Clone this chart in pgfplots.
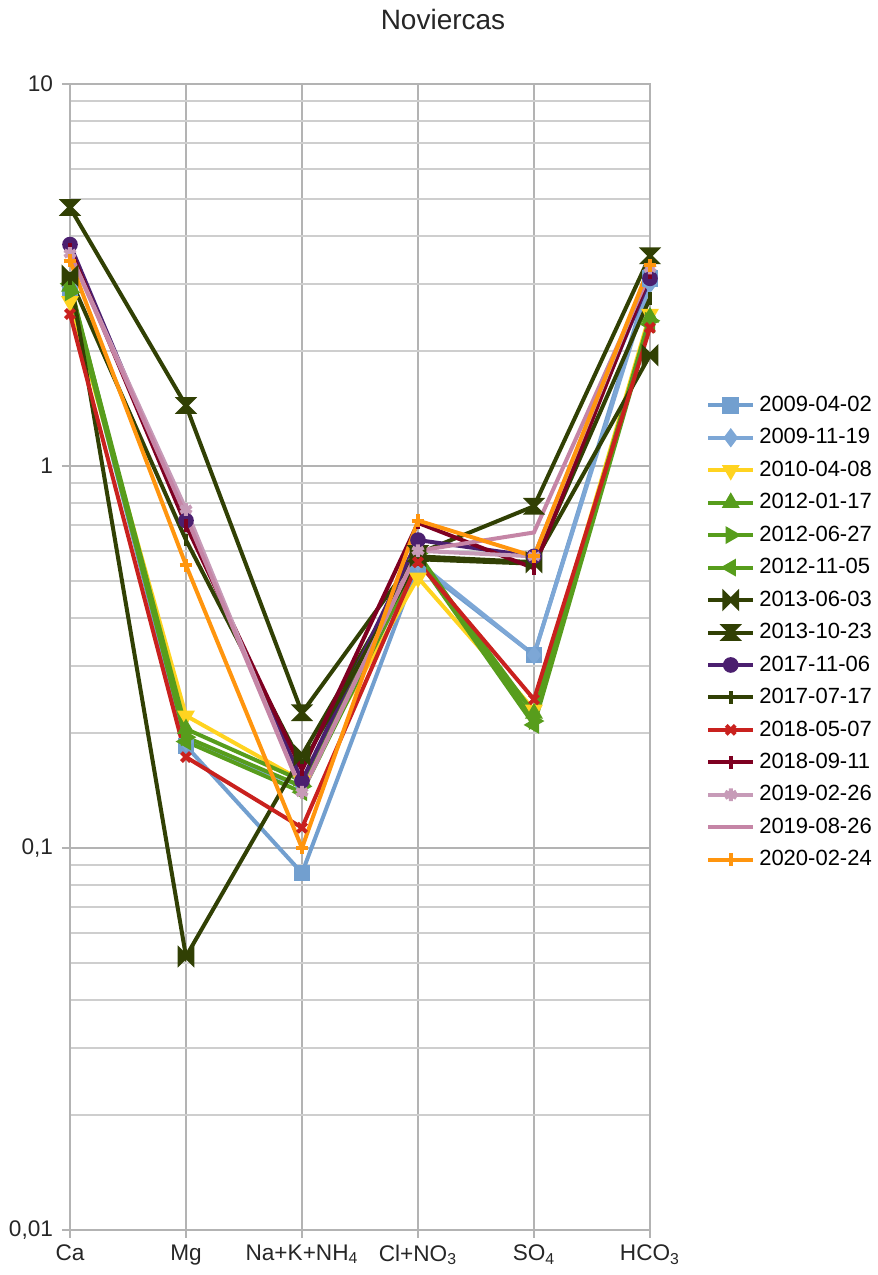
\documentclass[border=0pt]{standalone}
\usepackage{pgfplots}
\pgfplotsset{compat=1.18}
\usepackage{fontspec}
\setmainfont{Liberation Sans}
\definecolor{cblue}{HTML}{729FCF}
\definecolor{cblue2}{HTML}{7DA7D6}
\definecolor{cyellow}{HTML}{FFD320}
\definecolor{cgreen}{HTML}{579D1C}
\definecolor{colive}{HTML}{314004}
\definecolor{cpurple}{HTML}{4B1F6F}
\definecolor{cred}{HTML}{C9211E}
\definecolor{cdred}{HTML}{7E0021}
\definecolor{cpink}{HTML}{C79BB8}
\definecolor{cpink2}{HTML}{C585A6}
\definecolor{corange}{HTML}{FF950E}
\definecolor{cgrid}{HTML}{B3B3B3}
\pgfdeclareplotmark{bowtie}{%
  \pgfpathmoveto{\pgfqpoint{-\pgfplotmarksize}{\pgfplotmarksize}}%
  \pgfpathlineto{\pgfqpoint{\pgfplotmarksize}{-\pgfplotmarksize}}%
  \pgfpathlineto{\pgfqpoint{\pgfplotmarksize}{\pgfplotmarksize}}%
  \pgfpathlineto{\pgfqpoint{-\pgfplotmarksize}{-\pgfplotmarksize}}%
  \pgfpathclose\pgfusepathqfillstroke}
\pgfdeclareplotmark{hourglass}{%
  \pgfpathmoveto{\pgfqpoint{-\pgfplotmarksize}{\pgfplotmarksize}}%
  \pgfpathlineto{\pgfqpoint{\pgfplotmarksize}{\pgfplotmarksize}}%
  \pgfpathlineto{\pgfqpoint{-\pgfplotmarksize}{-\pgfplotmarksize}}%
  \pgfpathlineto{\pgfqpoint{\pgfplotmarksize}{-\pgfplotmarksize}}%
  \pgfpathclose\pgfusepathqfillstroke}
\begin{document}
\begin{tikzpicture}
\useasboundingbox (-35pt,-22.5pt) rectangle (404pt,615pt);
\begin{axis}[
  at={(0,0)}, anchor=south west,
  scale only axis, width=290pt, height=573pt,
  xmin=0, xmax=5, ymode=log, ymin=0.01, ymax=10,
  xtick={0,1,2,3,4,5},
  xticklabels={Ca, Mg, Na+K+NH\textsubscript{4}, Cl+NO\textsubscript{3}, SO\textsubscript{4}, HCO\textsubscript{3}},
  ytick={0.01,0.1,1,10},
  yticklabels={{0,01},{0,1},1,10},
  /pgf/number format/assume math mode=true,
  tick label style={font=\fontsize{11.3}{13}\selectfont, text=black!85},
  yticklabel style={xshift=-1pt},
  xmajorgrids, ymajorgrids, yminorgrids,
  major grid style={cgrid, line width=1pt},
  minor grid style={cgrid!65, line width=1pt},
  axis line style={cgrid, line width=1pt},
  tick style={cgrid, line width=1pt},
  tick align=outside, major tick length=4pt, minor tick length=0pt,
  xtick pos=bottom, ytick pos=left,
  legend cell align=left,
  legend style={at={(rel axis cs:1.086,0.735)}, anchor=north west, draw=none,
    font=\fontsize{11}{13}\selectfont, row sep=3.05pt, fill=none},
  legend image code/.code={%
    \draw[mark repeat=2,mark phase=2] plot coordinates {(0pt,0pt)(11.25pt,0pt)(22.5pt,0pt)};},
  every axis plot/.append style={line width=2pt, mark size=3.2pt},
  clip=false,
]
\addplot[cblue, mark=square*] coordinates {(0,2.9)(1,0.185)(2,0.086)(3,0.55)(4,0.32)(5,3.1)};
\addlegendentry{2009-04-02}
\addplot[cblue2, mark=diamond*] coordinates {(0,2.95)(1,0.19)(2,0.145)(3,0.56)(4,0.32)(5,3.0)};
\addlegendentry{2009-11-19}
\addplot[cyellow, mark=triangle*, mark options={rotate=180}] coordinates {(0,2.7)(1,0.222)(2,0.15)(3,0.51)(4,0.23)(5,2.5)};
\addlegendentry{2010-04-08}
\addplot[cgreen, mark=triangle*] coordinates {(0,2.95)(1,0.205)(2,0.15)(3,0.58)(4,0.225)(5,2.45)};
\addlegendentry{2012-01-17}
\addplot[cgreen, mark=triangle*, mark options={rotate=-90}] coordinates {(0,2.85)(1,0.195)(2,0.145)(3,0.59)(4,0.215)(5,2.4)};
\addlegendentry{2012-06-27}
\addplot[cgreen, mark=triangle*, mark options={rotate=90}] coordinates {(0,3.0)(1,0.19)(2,0.14)(3,0.57)(4,0.21)(5,2.35)};
\addlegendentry{2012-11-05}
\addplot[colive, mark=bowtie] coordinates {(0,3.15)(1,0.052)(2,0.175)(3,0.58)(4,0.56)(5,1.95)};
\addlegendentry{2013-06-03}
\addplot[colive, mark=hourglass] coordinates {(0,4.75)(1,1.44)(2,0.226)(3,0.59)(4,0.785)(5,3.55)};
\addlegendentry{2013-10-23}
\addplot[cpurple, mark=*, mark size=2.9pt] coordinates {(0,3.8)(1,0.72)(2,0.15)(3,0.64)(4,0.58)(5,3.1)};
\addlegendentry{2017-11-06}
\addplot[colive, mark=|] coordinates {(0,3.1)(1,0.64)(2,0.165)(3,0.57)(4,0.555)(5,2.75)};
\addlegendentry{2017-07-17}
\addplot[cred, mark=x] coordinates {(0,2.5)(1,0.173)(2,0.113)(3,0.56)(4,0.245)(5,2.3)};
\addlegendentry{2018-05-07}
\addplot[cdred, mark=|] coordinates {(0,3.7)(1,0.7)(2,0.16)(3,0.71)(4,0.54)(5,3.2)};
\addlegendentry{2018-09-11}
\addplot[cpink, mark=asterisk] coordinates {(0,3.6)(1,0.77)(2,0.14)(3,0.6)(4,0.58)(5,3.3)};
\addlegendentry{2019-02-26}
\addplot[cpink2] coordinates {(0,3.6)(1,0.74)(2,0.14)(3,0.6)(4,0.67)(5,3.2)};
\addlegendentry{2019-08-26}
\addplot[corange, mark=+] coordinates {(0,3.45)(1,0.55)(2,0.1)(3,0.72)(4,0.58)(5,3.35)};
\addlegendentry{2020-02-24}
\end{axis}
\node[font=\fontsize{14}{16}\selectfont, text=black!85] at (186.5pt,605pt) {Noviercas};
\end{tikzpicture}
\end{document}
